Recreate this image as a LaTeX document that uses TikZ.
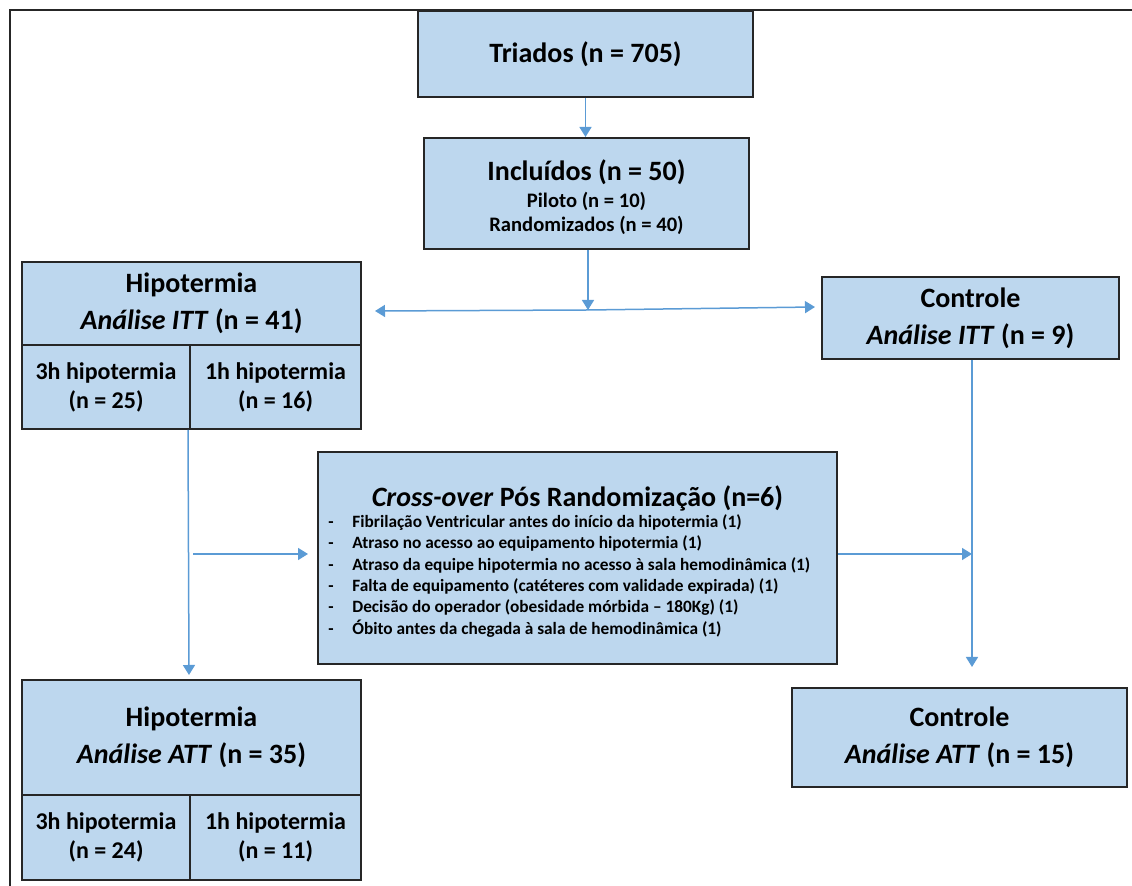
\documentclass[tikz,border=0pt]{standalone}
\usepackage{fontspec}
\setmainfont{Carlito}
\usetikzlibrary{arrows.meta}
\definecolor{boxblue}{HTML}{BDD7EE}
\definecolor{arrowblue}{HTML}{5B9BD5}
\tikzset{
	box/.style={draw=black!85, line width=1pt, fill=boxblue, inner sep=0pt, align=center, font=\bfseries\fontsize{14}{18.5}\selectfont},
	subbox/.style={box, font=\bfseries\fontsize{12}{14.5}\selectfont},
	conn/.style={draw=arrowblue, line width=0.75pt},
	arrowed/.style={-{Triangle[width=6pt,length=5pt]}}
}
\begin{document}
\begin{tikzpicture}[x=0.5pt,y=-0.5pt]
	\useasboundingbox (0,0) rectangle (1132,886);
	% frame
	\coordinate (fbl) at (10,886);
	\coordinate (ftl) at (10,10);
	\coordinate (ftr) at (1132,10);
	\draw[line width=1.2pt, black!85] (fbl) -- (ftl) -- (ftr);
	% boxes
	\node (tri) at (585.5,54) [box, minimum width=167.5pt, minimum height=43pt] {Triados (n = 705)};
	\node (inc) at (586.5,193.5) [box, minimum width=162.5pt, minimum height=55.5pt, font=\bfseries\fontsize{10.3}{12}\selectfont] {{\fontsize{14}{16}\selectfont\rule{0pt}{14pt}Incluídos (n = 50)}\\[1.5pt]Piloto (n = 10)\\Randomizados (n = 40)};
	\node (hipITT) at (191.5,303.5) [box, minimum width=169.5pt, minimum height=41.5pt] {Hipotermia\\\textit{Análise ITT} (n = 41)};
	\node (hipITTa) at (106,387) [subbox, minimum width=84pt, minimum height=42pt] {3h hipotermia\\(n = 25)};
	\node (hipITTb) at (275.5,387) [subbox, minimum width=85.5pt, minimum height=42pt] {1h hipotermia\\(n = 16)};
	\node (ctlITT) at (970.5,318) [box, minimum width=148.5pt, minimum height=41pt] {Controle\\\textit{Análise ITT} (n = 9)};
	\node (cross) at (577.5,558) [box, minimum width=259.5pt, minimum height=106pt] {};
	\node (crossT) at (577.5,498) {\bfseries\fontsize{14}{16}\selectfont\textit{Cross-over} Pós Randomização (n=6)};
	\node (crossL) at (328,514) [anchor=north west, inner sep=0pt, align=left, font=\bfseries\fontsize{8.65}{10.7}\selectfont] {%
		\makebox[12pt][l]{-}Fibrilação Ventricular antes do início da hipotermia (1)\\
		\makebox[12pt][l]{-}Atraso no acesso ao equipamento hipotermia (1)\\
		\makebox[12pt][l]{-}Atraso da equipe hipotermia no acesso à sala hemodinâmica (1)\\
		\makebox[12pt][l]{-}Falta de equipamento (catéteres com validade expirada) (1)\\
		\makebox[12pt][l]{-}Decisão do operador (obesidade mórbida – 180Kg) (1)\\
		\makebox[12pt][l]{-}Óbito antes da chegada à sala de hemodinâmica (1)};
	\node (hipATT) at (191.5,737.5) [box, minimum width=169.5pt, minimum height=57.5pt] {Hipotermia\\\textit{Análise ATT} (n = 35)};
	\node (hipATTa) at (106,837.5) [subbox, minimum width=84pt, minimum height=42.5pt] {3h hipotermia\\(n = 24)};
	\node (hipATTb) at (275.5,837.5) [subbox, minimum width=85.5pt, minimum height=42.5pt] {1h hipotermia\\(n = 11)};
	\node (ctlATT) at (959.5,737.5) [box, minimum width=167.5pt, minimum height=49.5pt] {Controle\\\textit{Análise ATT} (n = 15)};
	% connectors
	\coordinate (fork) at (588,310);
	\coordinate (forkL) at (375,311);
	\coordinate (forkR) at (815,307);
	\coordinate (hipdown) at (188,430);
	\coordinate (hipend) at (189,675);
	\coordinate (midL) at (193,554);
	\coordinate (crossin) at (308,554);
	\coordinate (ctlmid) at (972,554);
	\coordinate (ctlend) at (972,667);
	\draw[conn,arrowed] (tri.south) -- (tri.south |- inc.north);
	\draw[conn,arrowed] (inc.south -| fork) -- (fork);
	\draw[conn,arrowed] (fork) -- (forkL);
	\draw[conn,arrowed] (fork) -- (forkR);
	\draw[conn,arrowed] (hipdown) -- (hipend);
	\draw[conn,arrowed] (midL) -- (crossin);
	\draw[conn,arrowed] (cross.east |- ctlmid) -- (ctlmid);
	\draw[conn,arrowed] (ctlITT.south -| ctlmid) -- (ctlend);
\end{tikzpicture}
\end{document}
